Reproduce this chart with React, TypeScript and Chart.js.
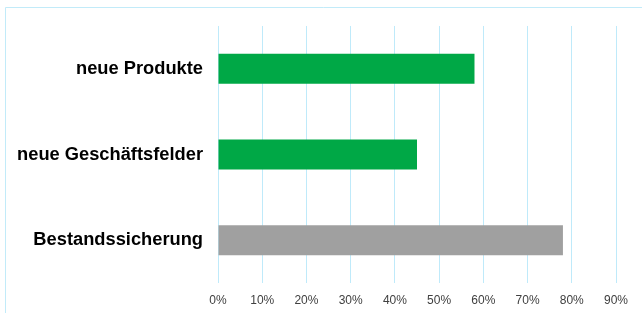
import React, { useEffect, useRef } from "react";
import { Chart, registerables } from "chart.js";

Chart.register(...registerables);

const categories = ["neue Produkte", "neue Geschäftsfelder", "Bestandssicherung"];
const values = [58, 45, 78];
const barColors = ["#00a846", "#00a846", "#a0a0a0"];
const xMin = 0;
const xMax = 90;
const xStep = 10;

const framePlugin = {
  id: "frame",
  beforeDraw(chart: any) {
    const ctx = chart.ctx;
    ctx.save();
    ctx.strokeStyle = "#c2ebf9";
    ctx.lineWidth = 1;
    ctx.beginPath();
    ctx.moveTo(5.5, chart.height);
    ctx.lineTo(5.5, 7.5);
    ctx.lineTo(chart.width, 7.5);
    ctx.stroke();
    ctx.restore();
  },
};

export default function App() {
  const ref = useRef<HTMLCanvasElement | null>(null);
  useEffect(() => {
    document.body.style.margin = "0";
    const chart = new Chart(ref.current!, {
      type: "bar",
      data: {
        labels: categories,
        datasets: [
          {
            data: values,
            backgroundColor: barColors,
            borderColor: barColors,
            borderWidth: 0,
            barPercentage: 0.35,
            categoryPercentage: 1,
          },
        ],
      },
      options: {
        indexAxis: "y",
        animation: false,
        responsive: false,
        layout: { padding: { top: 24, right: 26, left: 0, bottom: 0 } },
        plugins: { legend: { display: false }, tooltip: { enabled: false } },
        scales: {
          x: {
            min: xMin,
            max: xMax,
            ticks: {
              stepSize: xStep,
              callback: (v: any) => v + "%",
              color: "#404040",
              font: { family: "Liberation Sans, Arial, sans-serif", size: 12 },
              padding: 10,
            },
            grid: { color: "#bfeafa", drawTicks: false, lineWidth: 1 },
            border: { display: false },
            afterFit: (s: any) => {
              s.height = 30;
            },
          },
          y: {
            ticks: {
              color: "#000000",
              font: { family: "Liberation Sans, Arial, sans-serif", size: 18.3, weight: "bold" },
              padding: 15,
            },
            grid: { display: false, drawTicks: false },
            border: { display: false },
            afterFit: (s: any) => {
              s.width = 218;
            },
          },
        },
      },
      plugins: [framePlugin],
    } as any);
    return () => chart.destroy();
  }, []);
  return <canvas ref={ref} width={642} height={313} style={{ display: "block" }} />;
}
